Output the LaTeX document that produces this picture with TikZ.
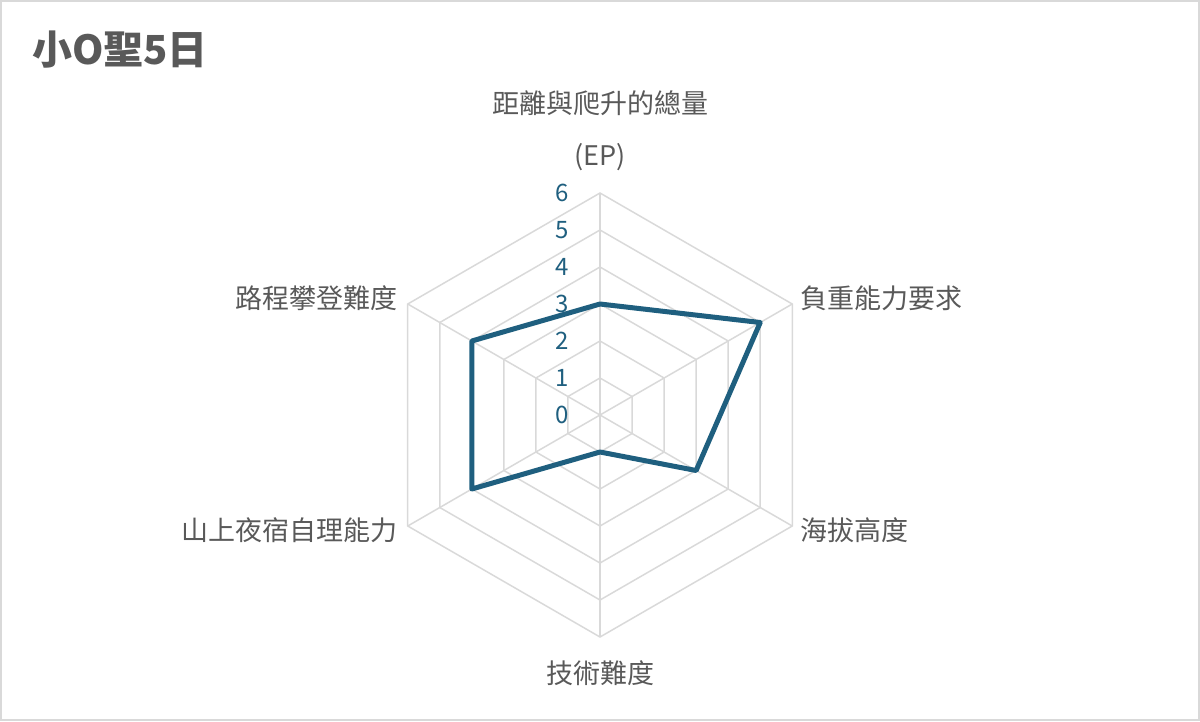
\documentclass[tikz,border=0pt]{standalone}
\usepackage{fontspec}
\usetikzlibrary{calc}
\setmainfont{Noto Sans CJK TC}
\begin{document}
\begin{tikzpicture}[x=1pt,y=-1pt,
  lbl/.style={text=txtgray,font=\fontsize{27}{30}\selectfont,inner sep=0pt},
  num/.style={text=teal1,font=\fontsize{24}{28}\selectfont,inner sep=0pt,anchor=east},
  grid/.style={draw=gridgray,line width=1.5pt},
  dataline/.style={draw=teal1,line width=5pt,line join=round}]
\definecolor{txtgray}{HTML}{595959}
\definecolor{gridgray}{HTML}{D9D9D9}
\definecolor{teal1}{HTML}{1F5F7F}
\useasboundingbox (0,0) rectangle (1200,721);
\draw[draw=gridgray,line width=2pt] (1,1) rectangle (1199,720);
\node[lbl,anchor=west,font=\fontsize{40}{44}\selectfont\bfseries] (title) at (32,50) {小O聖5日};
\coordinate (c) at (600,415);
\foreach \r in {1,...,6}{
  \draw[grid] ($(c)+(-90:37*\r)$) \foreach \a in {-30,30,90,150,-150}{ -- ($(c)+(\a:37*\r)$)} -- cycle;
}
\foreach \a in {90,30,-30,-90,-150,150}{ \draw[grid] (c) -- ($(c)+(\a:222)$); }
\foreach \v in {0,...,6}{ \node[num] (n\v) at (569,{415-37*\v}) {\v}; }
\coordinate (p1) at ($(c)+(-90:111)$);
\coordinate (p2) at ($(c)+(-30:185)$);
\coordinate (p3) at ($(c)+(30:111)$);
\coordinate (p4) at ($(c)+(90:37)$);
\coordinate (p5) at ($(c)+(150:148)$);
\coordinate (p6) at ($(c)+(-150:148)$);
\draw[dataline] (p1) -- (p2) -- (p3) -- (p4) -- (p5) -- (p6) -- cycle;
\node[lbl] (l1) at (600,103) {距離與爬升的總量};
\node[lbl] (l1b) at (600,157) {(EP)};
\node[lbl,anchor=west] (l2) at (800,298) {負重能力要求};
\node[lbl,anchor=west] (l3) at (800,530) {海拔高度};
\node[lbl] (l4) at (600,673) {技術難度};
\node[lbl,anchor=east] (l5) at (398,530) {山上夜宿自理能力};
\node[lbl,anchor=east] (l6) at (398,298) {路程攀登難度};
\end{tikzpicture}
\end{document}
